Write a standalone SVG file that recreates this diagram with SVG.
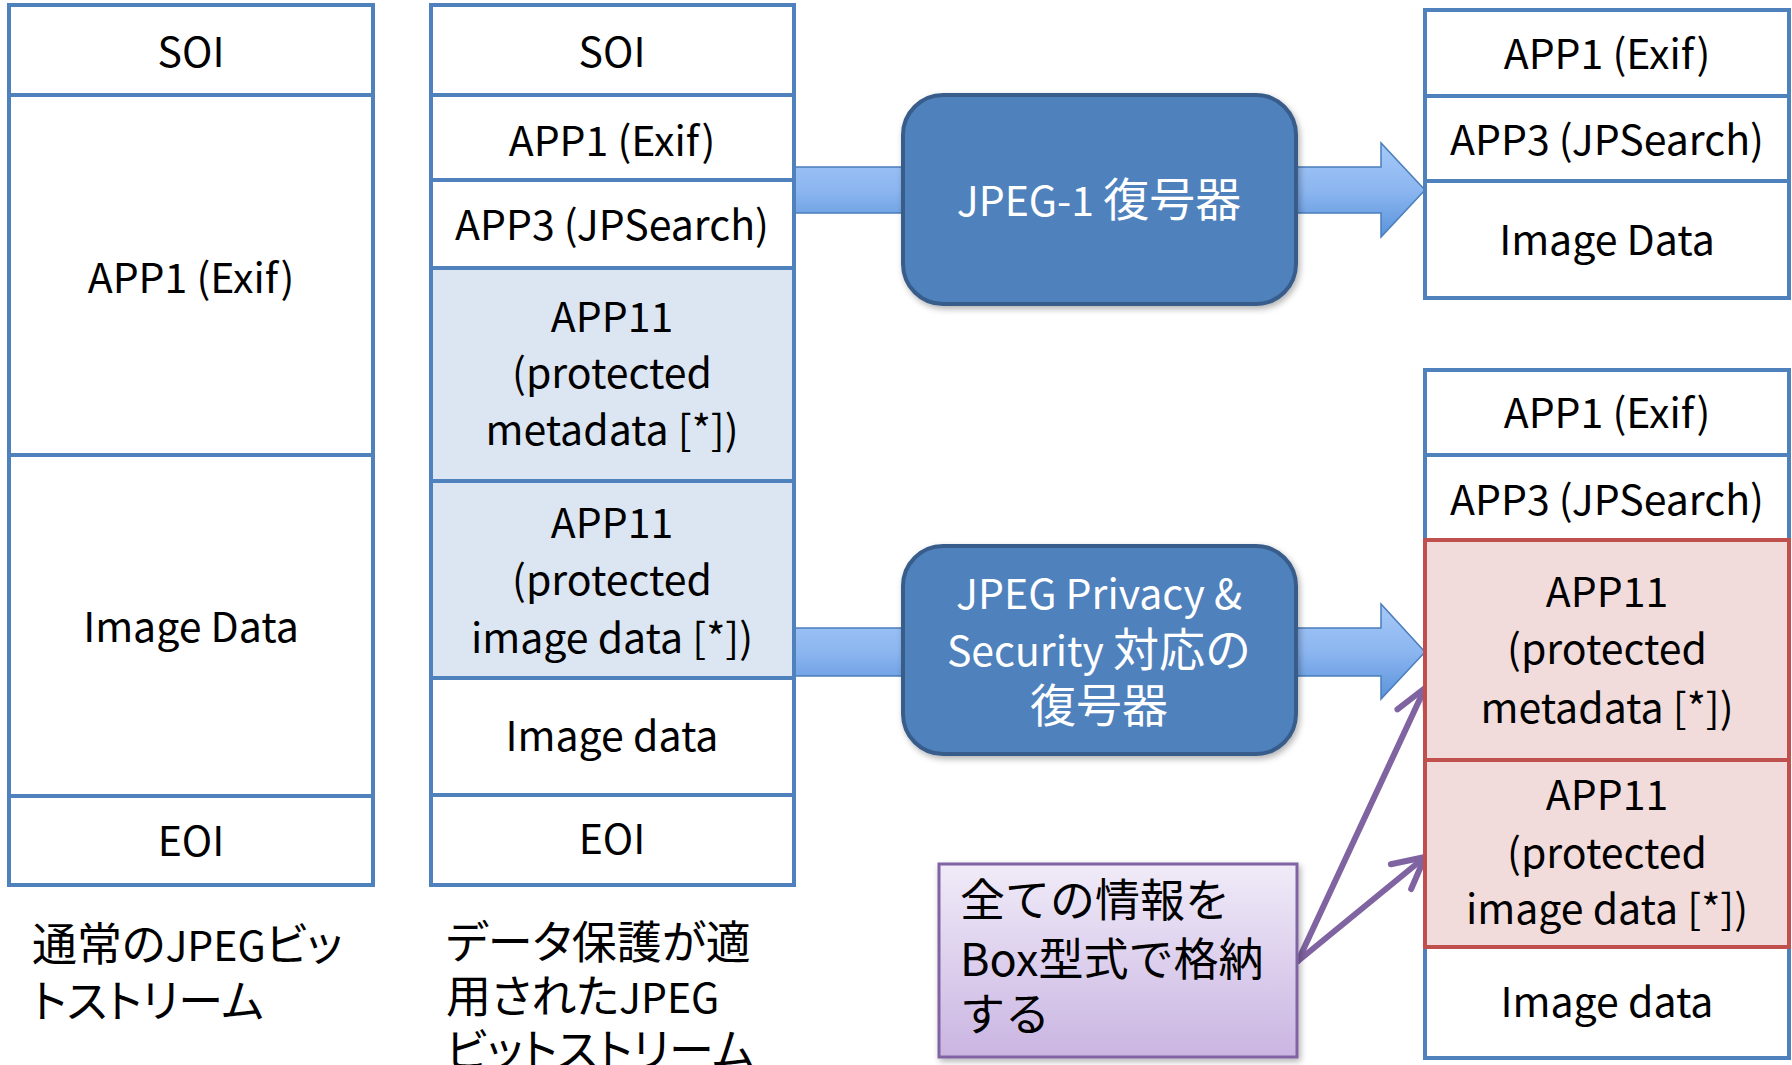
<svg xmlns="http://www.w3.org/2000/svg" width="1792" height="1065" viewBox="0 0 1792 1065">
<defs>
<linearGradient id="gArrow" x1="0" y1="0" x2="0" y2="1">
<stop offset="0" stop-color="#A6C9F8"/>
<stop offset="0.5" stop-color="#8CB6F0"/>
<stop offset="1" stop-color="#5A93DB"/>
</linearGradient>
<linearGradient id="gNote" x1="0" y1="0" x2="0" y2="1">
<stop offset="0" stop-color="#F0EBF8"/>
<stop offset="1" stop-color="#CAB5E2"/>
</linearGradient>
<filter id="shadow" x="-10%" y="-10%" width="125%" height="130%">
<feDropShadow dx="2" dy="3" stdDeviation="3" flood-color="#000" flood-opacity="0.3"/>
</filter>
<marker id="openArrow" markerUnits="userSpaceOnUse" markerWidth="48" markerHeight="48" viewBox="-40 -24 48 48" refX="0" refY="0" orient="auto">
<path d="M -31 -16 L 0 0 L -31 16" fill="none" stroke="#8064A2" stroke-width="6" stroke-linecap="round" stroke-linejoin="round"/>
</marker>
</defs>
<style>
text { font-family: "Noto Sans CJK JP", "Liberation Sans", sans-serif; fill: #000; }
.seg { fill: #FFFFFF; stroke: #4F81BD; stroke-width: 4; }
.prot { fill: #DCE6F2; stroke: #4F81BD; stroke-width: 4; }
.red { fill: #F2DCDB; stroke: #C0504D; stroke-width: 4; }
.lbl { font-size: 41px; text-anchor: middle; }
.cap { font-size: 45px; font-feature-settings: "palt" 1; }
.capL { font-size: 41px; }
.nt { font-size: 45px; }
.dec { fill: #4F81BD; stroke: #385D8A; stroke-width: 4; }
.decT { font-size: 41px; text-anchor: middle; fill: #FFFFFF; }
.cj { font-size: 46px; }
.blk { fill: url(#gArrow); stroke: #4A7EBB; stroke-width: 1.5; }
.pur { fill: none; stroke: #8064A2; stroke-width: 6; stroke-linecap: round; }
.note { fill: url(#gNote); stroke: #8064A2; stroke-width: 3; }
</style>
<rect width="1792" height="1065" fill="#FFFFFF"/>

<g id="connectors">
<polygon class="blk" points="795,167 1381,167 1381,143 1425,190 1381,237 1381,213 795,213"/>
<polygon class="blk" points="795,628 1381,628 1381,604 1425,652 1381,699 1381,676 795,676"/>
<line class="pur" x1="1298" y1="961" x2="1425" y2="688" marker-end="url(#openArrow)"/>
<line class="pur" x1="1298" y1="961" x2="1425" y2="857" marker-end="url(#openArrow)"/>
</g>

<g id="colA">
<rect class="seg" x="9" y="5" width="364" height="90"/>
<rect class="seg" x="9" y="95" width="364" height="360"/>
<rect class="seg" x="9" y="455" width="364" height="341"/>
<rect class="seg" x="9" y="796" width="364" height="89"/>
<text class="lbl" x="191" y="67">SOI</text>
<text class="lbl" x="191" y="293">APP1 (Exif)</text>
<text class="lbl" x="191" y="642">Image Data</text>
<text class="lbl" x="191" y="856">EOI</text>
</g>

<g id="colB">
<rect class="seg" x="431" y="5" width="363" height="90"/>
<rect class="seg" x="431" y="95" width="363" height="85"/>
<rect class="seg" x="431" y="180" width="363" height="88"/>
<rect class="prot" x="431" y="268" width="363" height="213"/>
<rect class="prot" x="431" y="481" width="363" height="197"/>
<rect class="seg" x="431" y="678" width="363" height="117"/>
<rect class="seg" x="431" y="795" width="363" height="90"/>
<text class="lbl" x="612" y="67">SOI</text>
<text class="lbl" x="612" y="156">APP1 (Exif)</text>
<text class="lbl" x="612" y="240">APP3 (JPSearch)</text>
<text class="lbl" x="612" y="332">APP11</text>
<text class="lbl" x="612" y="388">(protected</text>
<text class="lbl" x="612" y="445">metadata [*])</text>
<text class="lbl" x="612" y="538">APP11</text>
<text class="lbl" x="612" y="595">(protected</text>
<text class="lbl" x="612" y="653">image data [*])</text>
<text class="lbl" x="612" y="751">Image data</text>
<text class="lbl" x="612" y="854">EOI</text>
</g>

<g id="captionA">
<text class="cap" x="32" y="961">通常の<tspan class="capL">JPEG</tspan>ビッ</text>
<text class="cap" x="32" y="1018">トストリーム</text>
</g>

<g id="captionB">
<text class="cap" x="446" y="959">データ保護が適</text>
<text class="cap" x="446" y="1013">用された<tspan class="capL">JPEG</tspan></text>
<text class="cap" x="446" y="1067">ビットストリーム</text>
</g>

<g id="colC">
<rect class="seg" x="1425" y="10" width="364" height="86"/>
<rect class="seg" x="1425" y="96" width="364" height="85"/>
<rect class="seg" x="1425" y="181" width="364" height="117"/>
<text class="lbl" x="1607" y="69">APP1 (Exif)</text>
<text class="lbl" x="1607" y="155">APP3 (JPSearch)</text>
<text class="lbl" x="1607" y="255">Image Data</text>
</g>

<g id="colD">
<rect class="seg" x="1425" y="370" width="364" height="85"/>
<rect class="seg" x="1425" y="455" width="364" height="85"/>
<rect class="seg" x="1425" y="947" width="364" height="111"/>
<rect class="red" x="1425" y="540" width="364" height="220"/>
<rect class="red" x="1425" y="760" width="364" height="187"/>
<text class="lbl" x="1607" y="428">APP1 (Exif)</text>
<text class="lbl" x="1607" y="515">APP3 (JPSearch)</text>
<text class="lbl" x="1607" y="607">APP11</text>
<text class="lbl" x="1607" y="664">(protected</text>
<text class="lbl" x="1607" y="723">metadata [*])</text>
<text class="lbl" x="1607" y="810">APP11</text>
<text class="lbl" x="1607" y="868">(protected</text>
<text class="lbl" x="1607" y="924">image data [*])</text>
<text class="lbl" x="1607" y="1017">Image data</text>
</g>

<g id="decoder1">
<rect class="dec" x="903" y="95" width="393" height="209" rx="40" ry="40" filter="url(#shadow)"/>
<text class="decT" x="1099" y="216">JPEG-1 <tspan class="cj">復号器</tspan></text>
</g>

<g id="decoder2">
<rect class="dec" x="903" y="546" width="393" height="208" rx="40" ry="40" filter="url(#shadow)"/>
<text class="decT" x="1099" y="609">JPEG Privacy &amp;</text>
<text class="decT" x="1099" y="666">Security <tspan class="cj">対応の</tspan></text>
<text class="decT cj" x="1099" y="722">復号器</text>
</g>

<g id="note">
<rect class="note" x="939" y="864" width="358" height="193" filter="url(#shadow)"/>
<text class="nt" x="960" y="917">全ての情報を</text>
<text class="nt" x="960" y="976">Box型式で格納</text>
<text class="nt" x="960" y="1031">する</text>
</g>
</svg>
